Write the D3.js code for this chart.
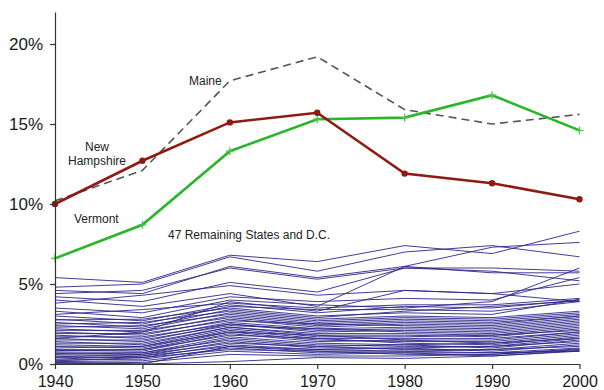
<!DOCTYPE html>
<html>
<head>
<meta charset="utf-8">
<script src="https://cdn.jsdelivr.net/npm/d3@7"></script>
<style>
  html, body { margin: 0; padding: 0; background: #fff; }
  svg { display: block; font-family: "Liberation Sans", Arial, Helvetica, sans-serif; }
</style>
</head>
<body>
<svg id="chart" width="604" height="390"></svg>
<script>
// Census years
const years = [1940, 1950, 1960, 1970, 1980, 1990, 2000];

// Share of population (%) per census year
const maine = [10.2, 12.1, 17.7, 19.2, 15.9, 15.0, 15.6];
const newHampshire = [10.0, 12.7, 15.1, 15.7, 11.9, 11.3, 10.3];
const vermont = [6.6, 8.7, 13.3, 15.3, 15.4, 16.8, 14.6];

// The 47 remaining states and D.C.
const otherStates = [
  [5.4, 5.1, 6.8, 6.4, 7.4, 6.9, 8.3],
  [4.8, 5.0, 6.7, 5.8, 7.0, 7.4, 6.7],
  [4.6, 4.4, 6.1, 5.4, 6.1, 7.3, 7.6],
  [4.4, 4.6, 6.0, 5.3, 6.0, 5.8, 5.2],
  [4.2, 3.9, 5.1, 4.5, 6.0, 6.0, 5.8],
  [4.0, 3.6, 4.4, 3.6, 6.1, 5.7, 5.7],
  [3.8, 4.3, 4.9, 4.3, 4.6, 4.4, 5.0],
  [3.5, 3.2, 4.2, 3.9, 4.1, 4.0, 5.4],
  [3.3, 2.9, 4.0, 3.7, 3.5, 3.9, 6.0],
  [3.1, 3.4, 3.8, 3.5, 3.7, 3.7, 4.1],
  [3.0, 2.7, 3.7, 3.2, 3.6, 3.5, 4.0],
  [2.8, 2.5, 3.6, 3.4, 3.4, 3.3, 3.9],
  [2.75, 2.8, 3.5, 3.0, 3.2, 3.1, 4.05],
  [2.6, 2.3, 3.4, 2.9, 3.3, 3.6, 3.95],
  [2.5, 2.6, 3.3, 2.8, 3.0, 2.9, 3.3],
  [2.4, 2.2, 3.2, 2.7, 2.9, 2.8, 3.2],
  [2.3, 2.4, 3.1, 2.6, 2.8, 2.7, 3.1],
  [2.2, 2.0, 3.0, 2.5, 2.7, 2.6, 3.0],
  [2.1, 2.1, 2.9, 2.4, 2.6, 2.5, 3.0],
  [2.0, 1.8, 2.8, 2.3, 2.5, 2.4, 2.9],
  [1.9, 1.9, 2.7, 2.5, 2.4, 2.3, 2.8],
  [1.8, 1.6, 2.6, 2.2, 2.3, 2.2, 2.7],
  [1.7, 1.7, 2.5, 2.1, 2.2, 2.1, 2.6],
  [1.6, 1.4, 2.5, 2.0, 2.1, 2.0, 2.5],
  [1.5, 1.5, 2.4, 2.2, 2.0, 1.9, 2.4],
  [1.4, 1.2, 2.3, 1.9, 1.9, 1.8, 2.3],
  [1.3, 1.3, 2.3, 1.8, 1.8, 1.7, 2.2],
  [1.2, 1.1, 2.2, 1.7, 1.7, 1.8, 2.1],
  [1.1, 1.0, 2.1, 1.6, 1.6, 1.6, 2.0],
  [1.0, 1.1, 2.0, 1.8, 1.5, 1.5, 2.0],
  [0.9, 0.9, 2.0, 1.5, 1.4, 1.4, 1.9],
  [0.85, 0.8, 1.9, 1.4, 1.5, 1.3, 1.8],
  [0.8, 0.9, 1.8, 1.6, 1.3, 1.2, 1.7],
  [0.7, 0.7, 1.7, 1.3, 1.2, 1.3, 1.6],
  [0.65, 0.6, 1.6, 1.2, 1.1, 1.1, 1.6],
  [0.6, 0.7, 1.5, 1.1, 1.2, 1.0, 1.5],
  [0.5, 0.5, 1.4, 1.0, 1.0, 1.1, 1.4],
  [0.45, 0.6, 1.3, 1.1, 0.9, 0.9, 1.3],
  [0.4, 0.4, 1.2, 0.9, 1.0, 0.8, 1.2],
  [0.3, 0.5, 1.1, 0.8, 0.8, 0.9, 1.1],
  [0.25, 0.3, 1.0, 0.7, 0.7, 0.7, 1.0],
  [0.2, 0.4, 0.9, 0.8, 0.6, 0.6, 0.95],
  [0.15, 0.2, 0.8, 0.6, 0.7, 0.5, 0.85],
  [0.1, 0.0, 1.1, 0.9, 0.8, 0.7, 0.8],
  [0.05, 0.1, 0.6, 0.5, 0.5, 0.6, 0.9],
  [0.05, 0.0, 0.15, 0.4, 0.35, 0.5, 0.8],
  [1.6, 2.0, 3.9, 3.3, 4.6, 4.4, 3.9]
];

const yTicks = [0, 5, 10, 15, 20];

const svg = d3.select("#chart");

const x = d3.scaleLinear().domain([1940, 2000]).range([55, 579.5]);
const y = d3.scaleLinear().domain([0, 22]).range([364, 12]);

const line = d3.line()
  .x((d, i) => x(years[i]))
  .y(d => y(d));

// Background states
svg.append("g")
  .selectAll("path")
  .data(otherStates)
  .join("path")
  .attr("d", line)
  .attr("fill", "none")
  .attr("stroke", "#2c2688")
  .attr("stroke-width", 0.9);

// Maine
svg.append("path")
  .datum(maine)
  .attr("d", line)
  .attr("fill", "none")
  .attr("stroke", "#555")
  .attr("stroke-width", 1.6)
  .attr("stroke-dasharray", "8,5");

// Vermont
svg.append("path")
  .datum(vermont)
  .attr("d", line)
  .attr("fill", "none")
  .attr("stroke", "#2bb52b")
  .attr("stroke-width", 2.6);

svg.append("g")
  .selectAll("path")
  .data(vermont)
  .join("path")
  .attr("d", (d, i) => {
    const cx = x(years[i]), cy = y(d), s = 4;
    return `M${cx - s},${cy}H${cx + s}M${cx},${cy - s}V${cy + s}`;
  })
  .attr("stroke", "#4cc84c")
  .attr("stroke-width", 1.3);

// New Hampshire
svg.append("path")
  .datum(newHampshire)
  .attr("d", line)
  .attr("fill", "none")
  .attr("stroke", "#8e1b12")
  .attr("stroke-width", 2.6);

svg.append("g")
  .selectAll("circle")
  .data(newHampshire)
  .join("circle")
  .attr("cx", (d, i) => x(years[i]))
  .attr("cy", d => y(d))
  .attr("r", 3.2)
  .attr("fill", "#8e1b12");

// Axes
const yAxis = d3.axisLeft(y)
  .tickValues(yTicks)
  .tickFormat(d => d + "%")
  .tickSizeInner(5)
  .tickSizeOuter(0)
  .tickPadding(7);

const xAxis = d3.axisBottom(x)
  .tickValues(years)
  .tickFormat(d3.format("d"))
  .tickSizeInner(5)
  .tickSizeOuter(0)
  .tickPadding(6);

const gy = svg.append("g").attr("transform", "translate(55,0)").call(yAxis);
const gx = svg.append("g").attr("transform", "translate(0,364)").call(xAxis);

[gx, gy].forEach(g => {
  g.select(".domain").attr("stroke", "#333").attr("stroke-width", 1.2);
  g.selectAll(".tick line").attr("stroke", "#333").attr("stroke-width", 1.2);
  g.selectAll(".tick text")
    .attr("fill", "#1a1a1a")
    .style("font-size", "17px")
    .style("font-family", "'Liberation Sans', Arial, Helvetica, sans-serif");
});
gx.selectAll(".tick text").attr("dy", null).attr("y", 22.5).style("font-size", "16px");

// Series labels
const labels = svg.append("g")
  .attr("fill", "#222")
  .style("font-size", "12px");

labels.append("text").attr("x", 189).attr("y", 85).text("Maine");
labels.append("text").attr("x", 97).attr("y", 151).attr("text-anchor", "middle").text("New");
labels.append("text").attr("x", 97).attr("y", 165).attr("text-anchor", "middle").text("Hampshire");
labels.append("text").attr("x", 74).attr("y", 223).text("Vermont");
labels.append("text").attr("x", 168).attr("y", 238.5).text("47 Remaining States and D.C.");
</script>
</body>
</html>
